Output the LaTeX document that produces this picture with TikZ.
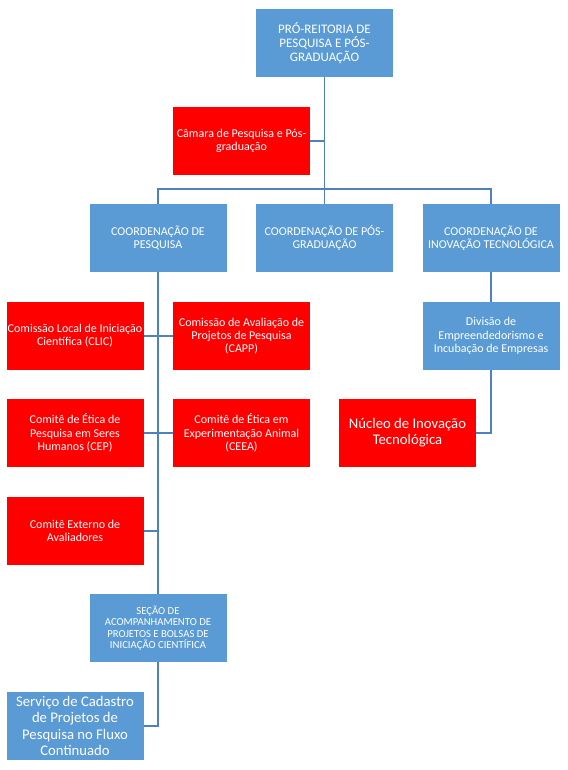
\documentclass[tikz,border=0pt]{standalone}
\usepackage{fontspec}
\setmainfont{Carlito}
\usepackage{xcolor}
\usepackage{tikz}

\definecolor{boxblue}{RGB}{91,155,213}
\definecolor{boxred}{RGB}{255,0,0}
\definecolor{linkblue}{RGB}{79,129,189}

\begin{document}
\begin{tikzpicture}[x=1pt,y=-1pt]
      \tikzstyle{block} = [rectangle, minimum width=137pt,
                           minimum height=68pt, inner sep=0.5pt, align=center,
                           text=white, font=\fontsize{12}{13.3}\selectfont]
      \tikzstyle{blockblue} = [block, fill=boxblue]
      \tikzstyle{blockred} = [block, fill=boxred]
      \tikzstyle{link} = [draw=linkblue, line width=1.3pt]

      \useasboundingbox (0,0) rectangle (567,770);

      \node[blockblue, font=\fontsize{13}{14.2}\selectfont] (pro) at (324.5,43)
            {PRÓ-REITORIA DE\\PESQUISA E PÓS-\\GRADUAÇÃO};
      \node[blockred] (camara) at (241.5,141) {Câmara de Pesquisa e Pós-\\graduação};

      \node[blockblue] (coordPesq) at (158,238) {COORDENAÇÃO DE\\PESQUISA};
      \node[blockblue] (coordPos) at (324.5,238) {COORDENAÇÃO DE PÓS-\\GRADUAÇÃO};
      \node[blockblue] (coordInov) at (491,238) {COORDENAÇÃO DE\\INOVAÇÃO TECNOLÓGICA};

      \node[blockred] (clic) at (75,336) {Comissão Local de Iniciação\\Científica (CLIC)};
      \node[blockred] (capp) at (241.5,336) {Comissão de Avaliação de\\Projetos de Pesquisa\\(CAPP)};
      \node[blockred] (cep) at (75,433) {Comitê de Ética de\\Pesquisa em Seres\\Humanos (CEP)};
      \node[blockred] (ceea) at (241.5,433) {Comitê de Ética em\\Experimentação Animal\\(CEEA)};
      \node[blockred] (externo) at (75,531) {Comitê Externo de\\Avaliadores};

      \node[blockblue, font=\fontsize{10.7}{11.3}\selectfont] (secao) at (158,628)
            {SEÇÃO DE\\ACOMPANHAMENTO DE\\PROJETOS E BOLSAS DE\\INICIAÇÃO CIENTÍFICA};
      \node[blockblue, font=\fontsize{14.7}{16.6}\selectfont] (servico) at (75,726)
            {Serviço de Cadastro\\de Projetos de\\Pesquisa no Fluxo\\Continuado};

      \node[blockblue] (divisao) at (491,336) {Divisão de\\Empreendedorismo e\\Incubação de Empresas};
      \node[blockred, font=\fontsize{14.7}{16}\selectfont] (nucleo) at (407.5,433)
            {Núcleo de Inovação\\Tecnológica};

      \coordinate (bus) at (324.5,189);

      \draw[link] (pro) -- (coordPos);
      \draw[link] (camara.east) -- (camara.east -| pro.south);
      \draw[link] (coordPesq.north) |- (bus) -| (coordInov.north);

      \draw[link] (coordPesq) -- (secao);
      \draw[link] (clic.east) -- (clic.east -| coordPesq.south);
      \draw[link] (capp.west) -- (capp.west -| coordPesq.south);
      \draw[link] (cep.east) -- (cep.east -| coordPesq.south);
      \draw[link] (ceea.west) -- (ceea.west -| coordPesq.south);
      \draw[link] (externo.east) -- (externo.east -| coordPesq.south);
      \draw[link] (secao.south) |- (servico.east);

      \draw[link] (coordInov) -- (divisao);
      \draw[link] (divisao.south) |- (nucleo.east);
    \end{tikzpicture}
\end{document}
